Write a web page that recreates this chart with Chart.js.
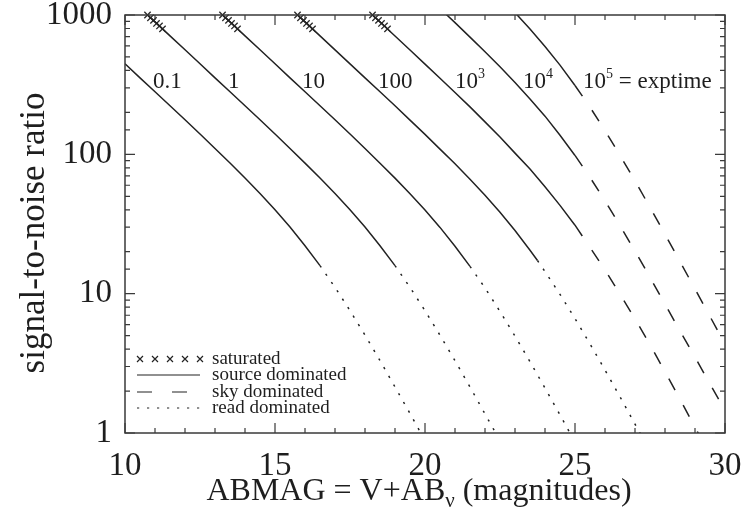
<!DOCTYPE html>
<html>
<head>
<meta charset="utf-8">
<title>Signal-to-noise vs. magnitude</title>
<script src="https://cdn.jsdelivr.net/npm/chart.js@4.4.1/dist/chart.umd.min.js"></script>
<style>
  html, body { margin: 0; padding: 0; background: #fff; }
  #wrap { width: 746px; height: 517px; position: relative; }
</style>
</head>
<body>
<div id="wrap"><canvas id="snr"></canvas></div>
<script>
// exposure times (s), one curve each
const exptimes = ['0.1', '1', '10', '100', '10^3', '10^4', '10^5'];

// S/N along each curve, sampled in ABMAG
const magsT01 = [10, 10.5, 11, 11.5, 12, 12.5, 13, 13.5, 14, 14.5, 15, 15.5, 16, 16.5, 17, 17.5, 18, 18.5, 19, 19.5, 20];
const snrT01 = [447, 354, 281, 223, 177, 140, 110, 86.6, 67.6, 52.3, 40.0, 30.1, 22.1, 15.9, 11.1, 7.56, 5.04, 3.31, 2.14, 1.38, 0.88];

const magsT1 = [10, 10.5, 11, 11.5, 12, 12.5, 13, 13.5, 14, 14.5, 15, 15.5, 16, 16.5, 17, 17.5, 18, 18.5, 19, 19.5, 20, 20.5, 21, 21.5, 22, 22.5];
const snrT1 = [1414, 1123, 892, 708, 563, 447, 354, 281, 223, 177, 140, 110, 86.5, 67.6, 52.3, 40.0, 30.1, 22.1, 15.9, 11.1, 7.55, 5.03, 3.30, 2.14, 1.37, 0.88];

const magsT10 = [13, 13.5, 14, 14.5, 15, 15.5, 16, 16.5, 17, 17.5, 18, 18.5, 19, 19.5, 20, 20.5, 21, 21.5, 22, 22.5, 23, 23.5, 24, 24.5, 25];
const snrT10 = [1123, 892, 708, 563, 447, 354, 281, 223, 177, 140, 110, 86.4, 67.5, 52.2, 39.8, 29.9, 21.9, 15.7, 11.0, 7.45, 4.96, 3.25, 2.10, 1.35, 0.86];

const magsT100 = [15.5, 16, 16.5, 17, 17.5, 18, 18.5, 19, 19.5, 20, 20.5, 21, 21.5, 22, 22.5, 23, 23.5, 23.75, 24, 24.5, 25, 25.5, 26, 26.5, 27, 27.5];
const snrT100 = [1123, 892, 708, 562, 446, 354, 281, 223, 176, 139, 109, 85.5, 66.3, 50.9, 38.4, 28.4, 20.5, 17.3, 14.4, 9.89, 6.63, 4.36, 2.83, 1.82, 1.16, 0.74];

const magsT1e3 = [18, 18.5, 19, 19.5, 20, 20.5, 21, 21.5, 22, 22.5, 23, 23.5, 24, 24.5, 25, 25.5, 26, 26.5, 27, 27.5, 28, 28.5, 29, 29.5];
const snrT1e3 = [1122, 891, 707, 561, 444, 352, 278, 219, 171, 133, 102, 78.5, 58.5, 43.0, 31.0, 21.5, 14.8, 9.9, 6.6, 4.3, 2.75, 1.75, 1.1, 0.7];

const magsT1e4 = [20.5, 21, 21.5, 22, 22.5, 23, 23.5, 24, 24.5, 25, 25.5, 26, 26.5, 27, 27.5, 28, 28.5, 29, 29.5, 30];
const snrT1e4 = [1114, 881, 694, 545, 425, 328, 250, 188, 137, 98.2, 68.3, 46.4, 30.8, 20.2, 13.1, 8.4, 5.4, 3.5, 2.25, 1.45];

const magsT1e5 = [23, 23.5, 24, 24.5, 25, 25.5, 26, 26.5, 27, 27.5, 28, 28.5, 29, 29.5, 30];
const snrT1e5 = [1040, 794, 595, 437, 312, 218, 148, 98.4, 64.4, 41.7, 26.7, 17.0, 10.8, 6.86, 4.34];

// faintest magnitude where source noise still dominates, and what takes over after it
const sourceLimitMag = [16.5, 19, 21.5, 23.75, 25, 25, 25];
const faintRegime = ['read', 'read', 'read', 'read', 'sky', 'sky', 'sky'];

// saturated stretch at the bright end of each curve
const saturatedSnr = [1000, 955, 915, 870, 835, 795];
const saturatedMags = [
  [],
  [10.75, 10.85, 10.95, 11.05, 11.15, 11.25],
  [13.25, 13.35, 13.45, 13.55, 13.65, 13.75],
  [15.75, 15.85, 15.95, 16.05, 16.15, 16.25],
  [18.25, 18.35, 18.45, 18.55, 18.65, 18.75],
  [],
  []
];

const yDecades = [1, 10, 100, 1000];
const legendLabels = ['saturated', 'source dominated', 'sky dominated', 'read dominated'];

// where the exptime labels sit (left edge of text, baseline)
const labelMags = [10.93, 13.43, 15.9, 18.43, 21.0, 23.27, 25.27];
const labelSnr = 300;

const SERIF = "'Liberation Serif', 'DejaVu Serif', 'Times New Roman', serif";
const INK = '#1e1e1e';
const LINE = '#222';
const SKY_DASH = [13, 17];
const READ_DASH = [2.2, 7.8];

const magLists = [magsT01, magsT1, magsT10, magsT100, magsT1e3, magsT1e4, magsT1e5];
const snrLists = [snrT01, snrT1, snrT10, snrT100, snrT1e3, snrT1e4, snrT1e5];

const datasets = magLists.map((mags, i) => ({
  label: exptimes[i],
  data: mags.map((m, k) => ({ x: m, y: snrLists[i][k] })),
  borderColor: LINE,
  borderWidth: 1.5,
  pointRadius: 0,
  tension: 0,
  segment: {
    borderDash: ctx => ctx.p0.parsed.x >= sourceLimitMag[i]
      ? (faintRegime[i] === 'sky' ? SKY_DASH : READ_DASH)
      : undefined
  }
}));

datasets.push({
  label: 'saturated',
  data: saturatedMags.flatMap(ms => ms.map((m, k) => ({ x: m, y: saturatedSnr[k] }))),
  showLine: false,
  pointStyle: 'crossRot',
  pointRadius: 4.5,
  pointBorderWidth: 1.3,
  pointBorderColor: '#2a2a2a',
  clip: false
});

function isDecade(v) {
  return yDecades.includes(v);
}

// text with an optional raised / lowered run, e.g. 10^3 or AB_v
function drawRuns(ctx, runs, x, y, align) {
  let total = 0;
  runs.forEach(r => {
    ctx.font = r.size + 'px ' + SERIF;
    r.w = ctx.measureText(r.text).width;
    total += r.w;
  });
  let cx = align === 'center' ? x - total / 2 : x;
  runs.forEach(r => {
    ctx.font = r.size + 'px ' + SERIF;
    ctx.fillText(r.text, cx, y + (r.dy || 0));
    cx += r.w;
  });
}

function powerRuns(label, size) {
  const [base, exp] = label.split('^');
  const runs = [{ text: base, size }];
  if (exp) runs.push({ text: exp, size: Math.round(size * 0.62), dy: -size * 0.42 });
  return runs;
}

const decorations = {
  id: 'decorations',
  afterDraw(chart) {
    const { ctx, chartArea: a, scales: { x, y } } = chart;
    ctx.save();

    // frame with inward ticks on all four sides
    ctx.strokeStyle = '#3a3a3a';
    ctx.lineWidth = 1.5;
    ctx.setLineDash([]);
    ctx.strokeRect(a.left, a.top, a.right - a.left, a.bottom - a.top);
    ctx.lineWidth = 1.2;
    ctx.beginPath();
    for (let v = x.min; v <= x.max; v += 1) {
      const px = x.getPixelForValue(v);
      const len = v % 5 === 0 ? 10 : 5;
      ctx.moveTo(px, a.bottom); ctx.lineTo(px, a.bottom - len);
      ctx.moveTo(px, a.top); ctx.lineTo(px, a.top + len);
    }
    y.ticks.forEach(t => {
      const py = y.getPixelForValue(t.value);
      const len = isDecade(t.value) ? 10 : 5;
      ctx.moveTo(a.left, py); ctx.lineTo(a.left + len, py);
      ctx.moveTo(a.right, py); ctx.lineTo(a.right - len, py);
    });
    ctx.stroke();

    ctx.fillStyle = INK;
    ctx.textBaseline = 'alphabetic';
    ctx.textAlign = 'left';

    // exposure-time labels
    exptimes.forEach((lab, i) => {
      const px = x.getPixelForValue(labelMags[i]);
      const py = y.getPixelForValue(labelSnr);
      const runs = powerRuns(lab, 23);
      if (i === exptimes.length - 1) runs.push({ text: ' = exptime', size: 23 });
      drawRuns(ctx, runs, px, py, 'left');
    });

    // axis titles
    const midX = (a.left + a.right) / 2;
    drawRuns(ctx, [
      { text: 'ABMAG = V+AB', size: 32 },
      { text: 'ν', size: 21, dy: 7 },
      { text: ' (magnitudes)', size: 32 }
    ], midX - 6, 500, 'center');

    ctx.save();
    ctx.translate(44, 233);
    ctx.rotate(-Math.PI / 2);
    ctx.textAlign = 'center';
    ctx.font = '35px ' + SERIF;
    ctx.fillText('signal-to-noise ratio', 0, 0);
    ctx.restore();

    // legend in the lower-left corner
    const rows = [359, 375, 392, 408];
    const sx0 = a.left + 12, sx1 = a.left + 75, tx = a.left + 87;
    ctx.strokeStyle = LINE;
    ctx.lineWidth = 1.2;
    for (let k = 0; k < 5; k++) {
      const cx = sx0 + 3 + k * 15, cy = rows[0];
      ctx.beginPath();
      ctx.moveTo(cx - 3, cy - 3); ctx.lineTo(cx + 3, cy + 3);
      ctx.moveTo(cx - 3, cy + 3); ctx.lineTo(cx + 3, cy - 3);
      ctx.stroke();
    }
    [[], [15, 20], READ_DASH].forEach((dash, k) => {
      ctx.setLineDash(dash);
      ctx.beginPath();
      ctx.moveTo(sx0, rows[k + 1]);
      ctx.lineTo(k === 1 ? sx0 + 50 : sx1, rows[k + 1]);
      ctx.stroke();
    });
    ctx.setLineDash([]);
    ctx.font = '19px ' + SERIF;
    ctx.textBaseline = 'middle';
    legendLabels.forEach((t, k) => ctx.fillText(t, tx, rows[k]));

    ctx.restore();
  }
};

new Chart(document.getElementById('snr'), {
  type: 'line',
  data: { datasets },
  options: {
    responsive: true,
    maintainAspectRatio: false,
    animation: false,
    layout: { padding: { top: 15, right: 21, left: 0, bottom: 0 } },
    plugins: {
      legend: { display: false },
      tooltip: { enabled: false }
    },
    scales: {
      x: {
        type: 'linear',
        min: 10,
        max: 30,
        grid: { display: false },
        border: { display: false },
        ticks: {
          stepSize: 5,
          maxRotation: 0,
          autoSkip: false,
          padding: 6,
          color: INK,
          font: { family: SERIF, size: 33 }
        },
        afterFit(scale) {
          scale.height = 84;
          scale.paddingLeft = 0;
          scale.paddingRight = 0;
        }
      },
      y: {
        type: 'logarithmic',
        min: 1,
        max: 1000,
        grid: { display: false },
        border: { display: false },
        ticks: {
          autoSkip: false,
          padding: 5,
          color: INK,
          font: { family: SERIF, size: 33 },
          callback: v => (isDecade(v) ? String(v) : '')
        },
        afterFit(scale) {
          scale.width = 125;
          scale.paddingTop = 0;
          scale.paddingBottom = 0;
        }
      }
    }
  },
  plugins: [decorations]
});
</script>
</body>
</html>
